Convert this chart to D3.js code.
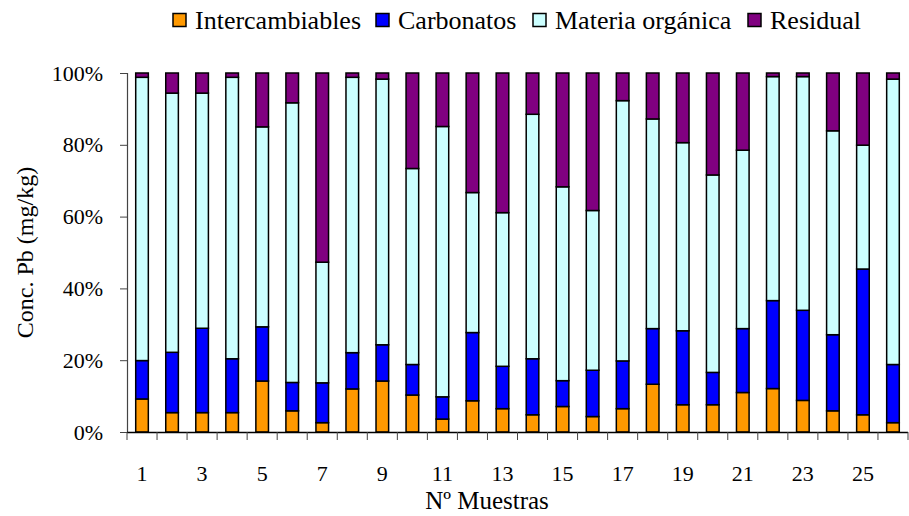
<!DOCTYPE html>
<html>
<head>
<meta charset="utf-8">
<script src="https://cdn.jsdelivr.net/npm/d3@7"></script>
<style>
  html, body { margin: 0; padding: 0; background: #fff; }
  svg { display: block; font-family: "Liberation Serif", "Times New Roman", serif; }
</style>
</head>
<body>
<svg id="chart" width="909" height="516"></svg>
<script>
const samples = d3.range(1, 27);
const seriesNames = ["Intercambiables", "Carbonatos", "Materia orgánica", "Residual"];
const seriesColors = ["#FF9900", "#0000FF", "#CCFFFF", "#800080"];

// percent of each fraction per sample
const intercambiables = [9.2, 5.4, 5.4, 5.4, 14.2, 5.9, 2.6, 12.0, 14.2, 10.3, 3.6, 8.7, 6.5, 4.8, 7.1, 4.3, 6.5, 13.3, 7.6, 7.6, 11.0, 12.1, 8.8, 5.9, 4.8, 2.6];
const carbonatos = [10.7, 16.8, 23.5, 15.0, 15.1, 7.9, 11.1, 10.1, 10.1, 8.5, 6.2, 19.0, 11.8, 15.6, 7.2, 12.9, 13.3, 15.5, 20.6, 9.0, 17.8, 24.5, 25.1, 21.2, 40.6, 16.2];
const materiaOrganica = [78.9, 72.2, 65.5, 78.4, 55.7, 77.9, 33.6, 76.7, 74.0, 54.6, 75.3, 39.0, 42.8, 68.1, 54.0, 44.5, 72.5, 58.4, 52.4, 55.0, 49.7, 62.4, 65.1, 56.8, 34.5, 79.5];
const residual = [1.2, 5.6, 5.6, 1.2, 15.0, 8.3, 52.7, 1.2, 1.7, 26.6, 14.9, 33.3, 38.9, 11.5, 31.7, 38.3, 7.7, 12.8, 19.4, 28.4, 21.5, 1.0, 1.0, 16.1, 20.1, 1.7];
const yTicks = [0, 0.2, 0.4, 0.6, 0.8, 1];

const rows = samples.map((s, i) => ({
  sample: s,
  "Intercambiables": intercambiables[i],
  "Carbonatos": carbonatos[i],
  "Materia orgánica": materiaOrganica[i],
  "Residual": residual[i],
}));

const svg = d3.select("#chart");
const margin = { top: 73, right: 1, bottom: 84, left: 127 };

const x = d3.scaleBand()
  .domain(samples)
  .range([margin.left, 908])
  .paddingInner(0.58)
  .paddingOuter(0.29);
const y = d3.scaleLinear().domain([0, 1]).range([432, 73]);

const stacked = d3.stack()
  .keys(seriesNames)
  .offset(d3.stackOffsetExpand)(rows);

const color = d3.scaleOrdinal().domain(seriesNames).range(seriesColors);

// bars
svg.append("g")
  .selectAll("g")
  .data(stacked)
  .join("g")
  .attr("fill", (d) => color(d.key))
  .selectAll("rect")
  .data((d) => d)
  .join("rect")
  .attr("x", (d) => x(d.data.sample))
  .attr("y", (d) => y(d[1]))
  .attr("width", x.bandwidth())
  .attr("height", (d) => y(d[0]) - y(d[1]))
  .attr("stroke", "#000")
  .attr("stroke-width", 1.5);

// y axis
const axisY = svg.append("g")
  .attr("transform", `translate(${margin.left},0)`)
  .call(d3.axisLeft(y).tickValues(yTicks).tickSize(7).tickFormat(d3.format(".0%")));
axisY.select(".domain").attr("stroke", "#444").attr("stroke-width", 1.2);
axisY.selectAll(".tick line").attr("stroke", "#444");
axisY.selectAll("text")
  .attr("x", -24)
  .attr("font-family", "Liberation Serif")
  .attr("font-size", 22)
  .attr("fill", "#000");

// x axis: ticks at category boundaries, labels on odd samples
const step = x.step();
const boundaries = d3.range(0, samples.length + 1).map((i) => margin.left + i * step);
const axisX = svg.append("g");
axisX.append("line")
  .attr("x1", margin.left).attr("x2", 908)
  .attr("y1", 432.5).attr("y2", 432.5)
  .attr("stroke", "#000").attr("stroke-width", 1.5);
axisX.selectAll(".xtick")
  .data(boundaries)
  .join("line")
  .attr("class", "xtick")
  .attr("x1", (d) => d).attr("x2", (d) => d)
  .attr("y1", 432).attr("y2", 440)
  .attr("stroke", "#444");
axisX.selectAll(".xlabel")
  .data(samples.filter((s) => s % 2 === 1))
  .join("text")
  .attr("class", "xlabel")
  .attr("x", (d) => x(d) + x.bandwidth() / 2)
  .attr("y", 481)
  .attr("text-anchor", "middle")
  .attr("font-size", 22)
  .text((d) => d);

// axis titles
svg.append("text")
  .attr("transform", `translate(33,${(73 + 432) / 2}) rotate(-90)`)
  .attr("text-anchor", "middle")
  .attr("font-size", 24)
  .text("Conc. Pb (mg/kg)");
svg.append("text")
  .attr("x", 487)
  .attr("y", 509)
  .attr("text-anchor", "middle")
  .attr("font-size", 25)
  .text("Nº Muestras");

// legend
const legendX = [173, 376, 533, 748];
const legend = svg.append("g")
  .selectAll("g")
  .data(seriesNames)
  .join("g")
  .attr("transform", (d, i) => `translate(${legendX[i]},0)`);
legend.append("rect")
  .attr("x", 0).attr("y", 13.5)
  .attr("width", 13).attr("height", 13)
  .attr("fill", (d) => color(d))
  .attr("stroke", "#000")
  .attr("stroke-width", 1.5);
legend.append("text")
  .attr("x", 22)
  .attr("y", 29)
  .attr("font-size", 26)
  .text((d) => d);
</script>
</body>
</html>
